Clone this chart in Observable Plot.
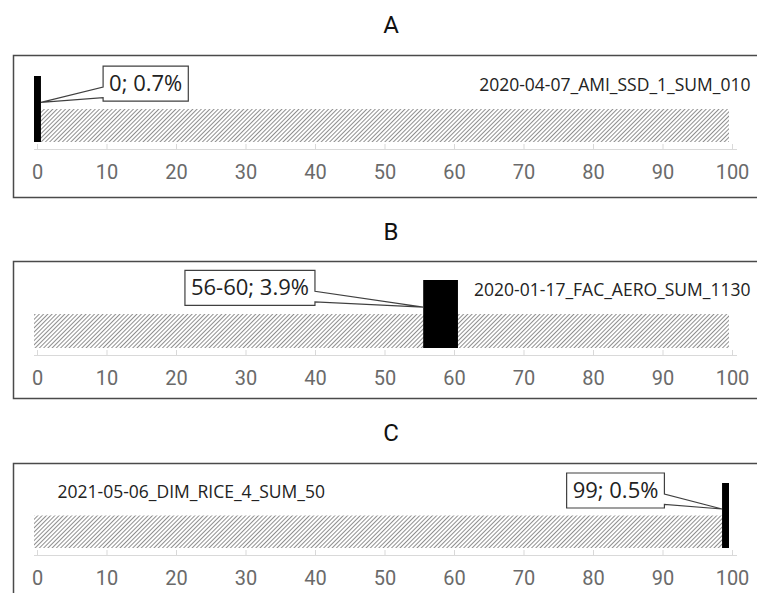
<!DOCTYPE html>
<html><head><meta charset="utf-8">
<script src="https://cdn.jsdelivr.net/npm/d3@7"></script>
<script src="https://cdn.jsdelivr.net/npm/@observablehq/plot@0.6"></script>
<style>
html,body{margin:0;padding:0;background:#fff;overflow:hidden;width:757px;height:593px;}
#chart svg{display:block;}
</style></head>
<body>
<svg width="0" height="0" style="position:absolute">
<defs>
<pattern id="hatch" patternUnits="userSpaceOnUse" width="3" height="3" patternTransform="rotate(45)">
<rect width="3" height="3" fill="#fff"/>
<line x1="0.5" y1="-1" x2="0.5" y2="4" stroke="#8f8f8f" stroke-width="1"/>
</pattern></defs></svg>
<div id="chart"></div>
<script>
// ---- data ----
const panelNames = ["A", "B", "C"];
const seriesTitles = ["2020-04-07_AMI_SSD_1_SUM_010", "2020-01-17_FAC_AERO_SUM_1130", "2021-05-06_DIM_RICE_4_SUM_50"];
const binLabels = ["0", "56-60", "99"];
const binStart = [0, 56, 99];
const binEnd = [1, 61, 100];
const binShare = [0.7, 3.9, 0.5];
const rangeMin = [0, 0, 0];
const rangeMax = [100, 100, 100];
const tickValues = [0, 10, 20, 30, 40, 50, 60, 70, 80, 90, 100];

// ---- layout (pixels / positions) ----
const layout = [
  {height: 200, top: 76, bottom: 142, titleY: 25, boxTop: 55, boxBottom: 197, labelX: 16, titleAlign: "right"},
  {height: 200, top: 80, bottom: 148, titleY: 32, boxTop: 61, boxBottom: 198, labelX: 31, titleAlign: "right"},
  {height: 200, top: 83, bottom: 148, titleY: 33, boxTop: 63, boxBottom: 260, labelX: 83.6, titleAlign: "left"}
];
const W = 757, ML = 34, MR = 28;
const axisFont = "Roboto, 'Liberation Sans', sans-serif";
const sans = "'Open Sans', 'Noto Sans', sans-serif";

const root = document.getElementById("chart");

panelNames.forEach((name, i) => {
  const L = layout[i];
  const bg = [{x1: rangeMin[i], x2: rangeMax[i]}];
  const bin = [{x1: binStart[i], x2: binEnd[i], label: `${binLabels[i]}; ${binShare[i]}%`}];
  const frameLeft = -ML + 13, frameRight = -(MR + 40);
  const plot = Plot.plot({
    width: W,
    height: L.height,
    marginLeft: ML,
    marginRight: MR,
    marginTop: L.top,
    marginBottom: L.height - L.bottom,
    style: {fontFamily: axisFont, background: "transparent", overflow: "visible"},
    x: {domain: [0, 100]},
    y: {domain: [0, 2], axis: null},
    marks: [
      Plot.frame({stroke: "#4a4a4a", strokeWidth: 1.5,
        insetLeft: frameLeft, insetRight: frameRight,
        insetTop: L.boxTop - L.top, insetBottom: -(L.boxBottom - L.bottom)}),
      Plot.text([name], {frameAnchor: "top", dx: 9, dy: L.titleY - L.top, fontSize: 24,
        fill: "#111", fontFamily: axisFont, lineAnchor: "middle"}),
      Plot.rect(bg, {x1: "x1", x2: "x2", y1: 0, y2: 1, fill: "url(#hatch)"}),
      Plot.ruleY([0], {stroke: "#d9d9d9", strokeWidth: 1.2, dy: 7, insetRight: -8}),
      Plot.axisX({ticks: tickValues, tickSize: 6, dy: 2, tickPadding: 14, stroke: "#d9d9d9",
        fill: "#6a6a6a", fontSize: 20, dx: 3, tickFormat: d => String(d)}),
      Plot.rect(bin, {x1: "x1", x2: "x2", y1: 0, y2: 2, fill: "#000"}),
      Plot.text([seriesTitles[i]], {frameAnchor: L.titleAlign, y: 1.72,
        dx: L.titleAlign === "right" ? 21 : 23, fontSize: 17.5, fontFamily: sans, fill: "#222",
        textAnchor: L.titleAlign === "right" ? "end" : "start"}),
      Plot.text(bin, {x: () => L.labelX, y: 1.77, text: "label", fontSize: 22, fontFamily: sans,
        fill: "#222", lineAnchor: "middle"})
    ]
  });
  root.appendChild(plot);

  // callout box with wedge pointer, anchored through the plot's scales
  const sx = plot.scale("x"), sy = plot.scale("y");
  const labelText = bin[0].label;
  const textEl = Array.from(plot.querySelectorAll("text")).find(t => t.textContent === labelText);
  if (textEl) {
    const r = textEl.getBoundingClientRect(), s = plot.getBoundingClientRect();
    const cx = (r.left + r.right) / 2 - s.left;
    const cy = sy.apply(1.77);
    const w = r.width + 12, h = 35;
    const x0 = cx - w / 2, x1 = cx + w / 2, y0 = cy - h / 2, y1 = cy + h / 2;
    const wa = y0 + 0.6 * h, wb = y0 + 0.9 * h;
    const barLeft = sx.apply(binStart[i]), barRight = sx.apply(binEnd[i]);
    const ty = sy.apply(1.2);
    let d;
    if (barLeft > x1) {
      d = `M${x0},${y0}H${x1}V${wa}L${barLeft},${ty}L${x1},${wb}V${y1}H${x0}Z`;
    } else {
      d = `M${x0},${y0}H${x1}V${y1}H${x0}V${wb}L${barRight},${ty}L${x0},${wa}Z`;
    }
    const g = textEl.closest("g");
    d3.select(plot).insert("path", () => g)
      .attr("d", d).attr("fill", "#fff").attr("stroke", "#404040").attr("stroke-width", 1.2);
  }
});
</script>
</body></html>
